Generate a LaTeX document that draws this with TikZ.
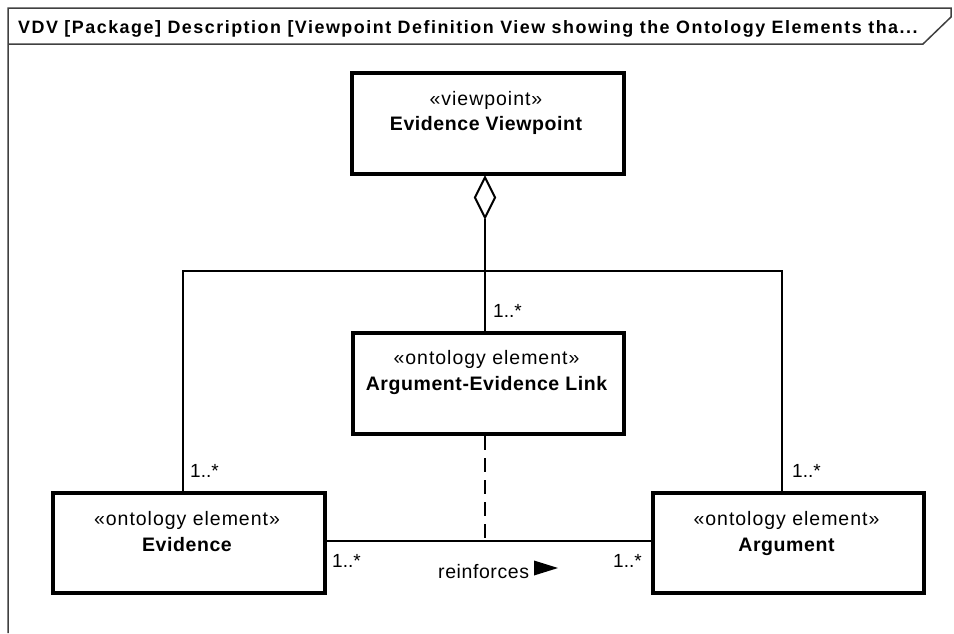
\documentclass[tikz,border=0pt]{standalone}
\usepackage{fontspec}
\setmainfont{Liberation Sans}
\usetikzlibrary{calc,shapes.geometric}
\begin{document}
\begin{tikzpicture}[x=1pt,y=-1pt,
  box/.style={draw=black,line width=4pt,fill=white,anchor=north west,inner sep=0pt},
  stereo/.style={anchor=base,inner sep=0pt,font=\fontsize{19.5}{22}\selectfont\addfontfeatures{LetterSpace=5}},
  bname/.style={anchor=base,inner sep=0pt,font=\fontsize{19.5}{22}\selectfont\bfseries\addfontfeatures{LetterSpace=3}},
  mult/.style={anchor=base west,inner sep=0pt,font=\fontsize{19}{22}\selectfont},
  conn/.style={draw=black,line width=2pt},
  framel/.style={draw=black!75,line width=1.5pt}
]
\useasboundingbox (0,0) rectangle (954,633);
% frame
\coordinate (fTL) at (8,8);
\coordinate (fTR) at (951,8);
\coordinate (fBL) at (8,633);
\coordinate (hR) at (951,17);
\coordinate (hD) at (923,44);
\coordinate (hL) at (8,44);
\draw[framel] (fBL) -- (fTL) -- (fTR) -- (hR) -- (hD) -- (hL);
\node[anchor=base west,inner sep=0pt,font=\fontsize{17.9}{20}\selectfont\bfseries\addfontfeatures{LetterSpace=8.4}] (title) at (18,33)
  {VDV [Package] Description [Viewpoint Definition View showing the Ontology Elements tha...};

% boxes
\node[box,minimum width=272,minimum height=101] (vp) at (350,71) {};
\node[stereo] (vps) at (486,105) {«viewpoint»};
\node[bname] (vpn) at (486,130) {Evidence Viewpoint};

\node[box,minimum width=271,minimum height=101] (link) at (351,331) {};
\node[stereo] (links) at (486.5,364) {«ontology element»};
\node[bname] (linkn) at (486.5,390) {Argument-Evidence Link};

\node[box,minimum width=272,minimum height=100] (ev) at (51,491) {};
\node[stereo] (evs) at (187,525) {«ontology element»};
\node[bname] (evn) at (187,551) {Evidence};

\node[box,minimum width=271,minimum height=100] (arg) at (651,491) {};
\node[stereo] (args) at (786.5,525) {«ontology element»};
\node[bname] (argn) at (786.5,551) {Argument};

% aggregation diamond
\node[diamond,draw=black,line width=2pt,fill=white,inner sep=0pt,minimum width=21,minimum height=41,anchor=north] (dia) at (vp.south -| 485,0) {};
\coordinate (jn) at (485,271);
\coordinate (jl) at (183,271);
\coordinate (jr) at (782,271);
\draw[conn] (dia.south) -- (link.north -| dia.south);
\draw[conn] (ev.north -| jl) -- (jl) -- (jr) -- (arg.north -| jr);

% association
\coordinate (am) at (485,541);
\draw[conn] (ev.east |- am) -- (arg.west |- am);
\draw[conn,dash pattern=on 14pt off 8pt] (link.south -| am) -- (am);

% multiplicities
\node[mult] (m1) at (493,317) {1..*};
\node[mult] (m2) at (190,477) {1..*};
\node[mult] (m3) at (792,477) {1..*};
\node[mult] (m4) at (332,567) {1..*};
\node[mult] (m5) at (613,567) {1..*};

% label
\node[anchor=base west,inner sep=0pt,font=\fontsize{19.5}{22}\selectfont\addfontfeatures{LetterSpace=3}] (rl) at (438,578) {reinforces};
\fill[black] (534,560.5) -- (558,568) -- (534,575.5) -- cycle;
\end{tikzpicture}
\end{document}
